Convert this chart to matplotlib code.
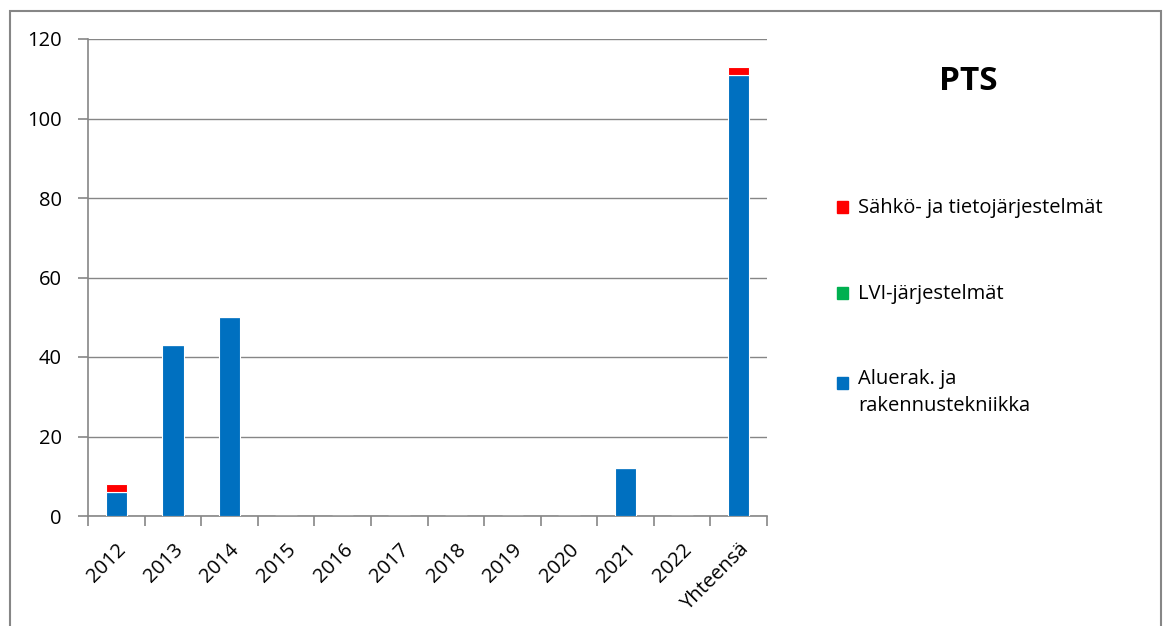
import matplotlib
matplotlib.use("Agg")
import matplotlib.pyplot as plt
from matplotlib.patches import Rectangle
import numpy as np

categories = ["2012", "2013", "2014", "2015", "2016", "2017", "2018", "2019",
              "2020", "2021", "2022", "Yhteensä"]
aluerak = [6, 43, 50, 0, 0, 0, 0, 0, 0, 12, 0, 111]
lvi = [0, 0, 0, 0, 0, 0, 0, 0, 0, 0, 0, 0]
sahko = [2, 0, 0, 0, 0, 0, 0, 0, 0, 0, 0, 2]
series_names = ["Sähkö- ja tietojärjestelmät", "LVI-järjestelmät",
                "Aluerak. ja\nrakennustekniikka"]
colors = ["#FF0000", "#00B050", "#0070C0"]
title = "PTS"

plt.rcParams['font.family'] = ['Open Sans', 'DejaVu Sans']

fig = plt.figure(figsize=(11.63, 6.26), dpi=100)
ax = fig.add_axes([88/1163, 1 - 516/626, (767-88)/1163, (516-39)/626])

x = np.arange(len(categories))
w = 0.38
a = np.array(aluerak); l = np.array(lvi); s = np.array(sahko)
kw = dict(width=w, edgecolor="white", linewidth=0.8, zorder=3)
ax.bar(x, a, color=colors[2], **kw)
ax.bar(x, l, bottom=a, color=colors[1], **kw)
ax.bar(x, s, bottom=a + l, color=colors[0], **kw)

ax.set_xlim(-0.5, len(categories) - 0.5)
ax.set_ylim(0, 120)
ax.set_yticks(range(0, 121, 20))
ax.yaxis.grid(True, color="#868686", linewidth=1.0, zorder=0)
ax.set_axisbelow(True)
for sp in ["top", "right"]:
    ax.spines[sp].set_visible(False)
for sp in ["left", "bottom"]:
    ax.spines[sp].set_color("#868686")
    ax.spines[sp].set_linewidth(1.2)

ax.set_xticks(np.arange(-0.5, len(categories), 1.0))
ax.set_xticklabels([])
ax.set_xticks(x, minor=True)
ax.set_xticklabels(categories, minor=True, rotation=45, ha="right",
                   rotation_mode="anchor", fontsize=14.5)
ax.tick_params(axis="x", which="major", length=7, color="#868686", width=1.2)
ax.tick_params(axis="x", which="minor", length=0, pad=17)
ax.tick_params(axis="y", length=7, color="#868686", width=1.2, labelsize=14.5, pad=12)

# legend (manual, order as in reference)
ys = [207, 293, 383]
for c, yy in zip(colors, ys):
    fig.patches.append(Rectangle((837/1163, 1 - (yy + 6)/626), 11/1163, 12/626,
                                 transform=fig.transFigure, color=c, figure=fig))

fig.text(858/1163, 1 - 208/626, series_names[0], fontsize=14.5, va="center", ha="left")
fig.text(858/1163, 1 - 294/626, series_names[1], fontsize=14.5, va="center", ha="left")
fig.text(858/1163, 1 - 369/626, series_names[2], fontsize=14.5, va="top", ha="left",
         linespacing=1.45)

fig.text(968/1163, 1 - 82/626, title, fontsize=24, fontweight="bold", ha="center", va="center")

fig.patches.append(Rectangle((9.5/1163, -0.05), (1161 - 9.5)/1163, 1.05 - 11.5/626,
                             transform=fig.transFigure, fill=False, edgecolor="#868686",
                             linewidth=1.5, figure=fig))

fig.savefig("out.png", dpi=100)
